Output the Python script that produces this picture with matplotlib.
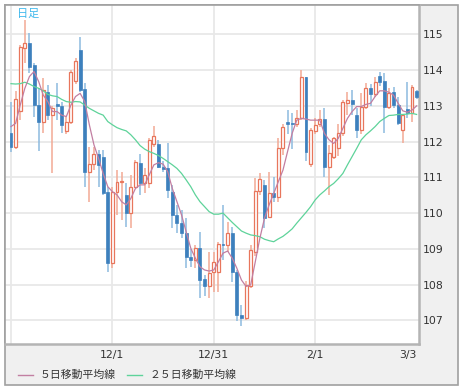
import matplotlib
matplotlib.use("Agg")
import matplotlib.pyplot as plt
from matplotlib.patches import Rectangle
from matplotlib.lines import Line2D

plt.rcParams['font.family'] = ['Noto Sans CJK JP', 'DejaVu Sans']

# daily candles (open, high, low, close)
opens = [112.23, 111.86, 112.85, 114.62, 114.75, 114.14, 113.02, 112.56, 113.40, 112.74,
         113.05, 113.00, 112.30, 112.56, 113.70, 114.56, 113.47, 111.16, 111.37, 111.64,
         111.58, 110.58, 108.60, 110.60, 110.87, 110.50, 110.00, 110.74, 111.40, 110.83,
         110.83, 111.92, 111.92, 111.30, 111.25, 110.60, 109.95, 109.72, 109.45, 108.78,
         108.69, 109.02, 108.15, 107.96, 108.36, 108.36, 109.15, 109.10, 109.44, 108.36,
         107.15, 107.06, 107.95, 108.92, 110.62, 110.79, 109.90, 110.55, 110.46, 111.81,
         112.56, 112.50, 112.48, 112.67, 113.82, 111.37, 112.30, 112.48, 112.63, 111.30,
         111.58, 111.81, 112.23, 113.07, 113.16, 112.75, 112.33, 112.98, 113.51, 113.32,
         113.83, 113.70, 112.98, 113.38, 113.02, 112.33, 112.91, 112.79, 113.42]
highs = [113.10, 113.42, 114.70, 115.40, 115.03, 114.20, 113.49, 113.77, 113.58, 113.00,
         113.63, 113.12, 112.70, 114.00, 114.33, 114.93, 113.63, 111.86, 111.86, 111.77,
         111.77, 110.74, 110.74, 111.20, 111.16, 110.83, 111.07, 111.49, 111.65, 111.25,
         112.10, 112.45, 112.05, 111.45, 111.95, 110.79, 110.23, 110.10, 109.86, 109.00,
         109.10, 109.48, 108.27, 108.92, 108.92, 109.20, 110.23, 109.76, 109.62, 108.40,
         107.43, 108.10, 109.10, 110.97, 111.11, 110.93, 111.16, 111.00, 112.09, 112.50,
         112.88, 112.80, 112.88, 114.00, 113.82, 112.37, 112.65, 112.88, 112.93, 111.90,
         112.14, 112.50, 113.16, 113.40, 113.44, 112.93, 113.35, 113.63, 113.60, 113.82,
         113.95, 113.91, 113.49, 113.54, 113.26, 112.74, 113.68, 113.58, 113.44]
lows = [111.71, 111.80, 112.60, 114.20, 113.91, 112.70, 111.74, 112.23, 112.60, 111.11,
        112.60, 112.23, 112.20, 112.50, 113.60, 113.40, 110.74, 110.32, 111.20, 110.74,
        110.50, 108.36, 108.46, 109.95, 109.80, 109.60, 109.58, 110.70, 110.50, 110.55,
        110.70, 111.85, 111.25, 111.15, 110.41, 109.58, 109.44, 109.30, 108.46, 108.50,
        108.46, 107.62, 107.67, 107.62, 107.80, 107.80, 108.70, 108.90, 108.08, 106.97,
        106.83, 107.00, 107.90, 108.80, 110.50, 109.58, 109.85, 110.30, 110.32, 111.63,
        112.20, 111.80, 112.40, 112.60, 111.46, 111.30, 112.20, 112.40, 111.02, 110.50,
        111.50, 111.60, 112.15, 112.75, 112.75, 112.10, 112.20, 112.90, 113.00, 113.25,
        113.55, 112.23, 112.90, 112.95, 112.47, 111.95, 112.65, 112.56, 113.20]
closes = [111.86, 113.18, 114.65, 114.76, 114.10, 113.02, 112.56, 113.44, 112.74, 112.93,
          113.00, 112.46, 112.55, 113.96, 114.25, 113.44, 111.16, 111.37, 111.65, 111.35,
          110.55, 108.60, 110.60, 110.88, 110.90, 109.99, 110.74, 111.44, 110.83, 111.08,
          112.05, 112.17, 111.30, 111.23, 110.65, 109.95, 109.72, 109.44, 108.78, 108.69,
          109.02, 108.13, 107.96, 108.32, 108.63, 109.15, 109.10, 109.44, 108.36, 107.15,
          107.08, 107.99, 108.97, 110.62, 110.96, 109.86, 110.55, 110.46, 111.81, 112.42,
          112.50, 112.49, 112.67, 113.82, 111.72, 112.33, 112.47, 112.63, 111.30, 111.67,
          112.09, 112.23, 113.10, 113.16, 113.04, 112.33, 112.98, 113.51, 113.32, 113.68,
          113.68, 112.98, 113.35, 113.02, 112.51, 112.74, 112.79, 113.54, 113.26]

# moving averages as shown on the chart
ma5 = [112.42, 112.51, 113.02, 113.49, 113.82, 113.96, 113.68, 113.30, 113.12, 112.84,
       112.84, 112.74, 112.70, 113.02, 113.26, 113.35, 113.12, 112.47, 111.91, 111.53,
       111.11, 110.74, 110.60, 110.51, 110.32, 110.23, 110.41, 110.69, 110.79, 110.79,
       111.07, 111.35, 111.41, 111.37, 111.16, 110.69, 110.32, 109.95, 109.48, 109.02,
       108.74, 108.50, 108.41, 108.38, 108.41, 108.64, 108.88, 108.94, 108.74, 108.46,
       108.13, 107.95, 107.99, 108.64, 109.30, 109.86, 110.23, 110.55, 110.88, 111.20,
       111.72, 112.23, 112.60, 112.65, 112.63, 112.60, 112.60, 112.60, 112.23, 112.05,
       111.95, 112.09, 112.37, 112.65, 112.84, 112.98, 112.98, 113.04, 113.07, 113.26,
       113.42, 113.42, 113.38, 113.30, 113.07, 112.86, 112.82, 112.88, 113.00]
ma25 = [113.62, 113.61, 113.62, 113.66, 113.61, 113.54, 113.49, 113.42, 113.32, 113.28,
        113.26, 113.18, 113.12, 113.10, 113.12, 113.11, 113.02, 112.93, 112.86, 112.79,
        112.74, 112.56, 112.47, 112.39, 112.34, 112.30, 112.19, 112.05, 111.89, 111.79,
        111.72, 111.67, 111.61, 111.53, 111.44, 111.35, 111.25, 111.11, 110.93, 110.74,
        110.51, 110.32, 110.18, 110.04, 109.97, 109.97, 110.00, 109.87, 109.74, 109.62,
        109.50, 109.44, 109.39, 109.37, 109.34, 109.27, 109.23, 109.20, 109.28, 109.35,
        109.45, 109.56, 109.72, 109.87, 110.02, 110.18, 110.37, 110.51, 110.62, 110.74,
        110.83, 110.96, 111.11, 111.35, 111.58, 111.81, 112.05, 112.19, 112.30, 112.42,
        112.56, 112.65, 112.73, 112.74, 112.76, 112.76, 112.77, 112.79, 112.76]

date_ticks = [22, 44, 66, 88]
date_labels = ['12/1', '12/31', '2/1', '3/3']
grid_days = [0, 22, 44, 66]
price_ticks = [107, 108, 109, 110, 111, 112, 113, 114, 115]

W, H = 465, 392
fig = plt.figure(figsize=(W / 100, H / 100), dpi=100)

# gray frame behind everything
fig.patches.append(Rectangle((5 / W, 1 - 385 / H), 453 / W, 380 / H,
                             transform=fig.transFigure, facecolor='#f0f0f0',
                             edgecolor='#a0a0a0', linewidth=1.2, zorder=-5))

ax = fig.add_axes([5 / W, 1 - 344 / H, 414 / W, 339 / H])
ax.set_zorder(2)
ax.set_facecolor('white')
ax.set_xlim(-1.3, 88.52)
ax.set_ylim(106.34, 115.82)

for p in price_ticks:
    ax.axhline(p, color='#e8e8e8', lw=1.3, zorder=0)
for d in grid_days:
    ax.axvline(d, color='#e8e8e8', lw=1.3, zorder=0)

up_edge, up_wick = '#e8765c', '#f2a995'
dn_face, dn_wick = '#3d80bd', '#8dbadf'
w = 0.64
for i in range(len(opens)):
    o, h, l, c = opens[i], highs[i], lows[i], closes[i]
    lo, hi = min(o, c), max(o, c)
    body = max(hi - lo, 0.04)
    if c >= o:
        ax.vlines(i, l, h, color=up_wick, lw=1.1, zorder=2)
        ax.bar(i, body, bottom=lo, width=w, facecolor='white',
               edgecolor=up_edge, linewidth=0.9, zorder=3)
    else:
        ax.vlines(i, l, h, color=dn_wick, lw=1.1, zorder=2)
        ax.bar(i, body, bottom=lo, width=w, facecolor=dn_face,
               edgecolor=dn_face, linewidth=0.5, zorder=3)

days = list(range(len(opens)))
ax.plot(days, ma25, color='#5ed39a', lw=0.9, zorder=4)
ax.plot(days, ma5, color='#c27fa2', lw=0.9, zorder=5)

ax.yaxis.tick_right()
ax.set_yticks(price_ticks)
ax.set_yticklabels([str(p) for p in price_ticks])
ax.set_xticks(date_ticks)
ax.set_xticklabels(date_labels)
ax.tick_params(axis='both', length=0, labelsize=7.8, colors='#333333')
ax.tick_params(axis='y', pad=2.5)
ax.tick_params(axis='x', pad=4)
for t in ax.get_yticklabels() + ax.get_xticklabels():
    t.set_family('DejaVu Sans')
ax.get_xticklabels()[-1].set_ha('right')

for s in ['left', 'top']:
    ax.spines[s].set_color('#a0a0a0')
    ax.spines[s].set_linewidth(1.2)
for s in ['right', 'bottom']:
    ax.spines[s].set_color('#b4b4b4')
    ax.spines[s].set_linewidth(1.8)

ax.text(12 / 414, 1 - 4 / 339, '日足', transform=ax.transAxes, fontsize=8,
        color='#3fb8ec', va='top', ha='left')

# legend
fig.add_artist(Line2D([18 / W, 33 / W], [1 - 375 / H] * 2, color='#c27fa2', lw=1))
fig.text(40 / W, 1 - 375 / H, '５日移動平均線', fontsize=7.8, color='#333333', va='center')
fig.add_artist(Line2D([127 / W, 142 / W], [1 - 375 / H] * 2, color='#5ed39a', lw=1))
fig.text(150 / W, 1 - 375 / H, '２５日移動平均線', fontsize=7.8, color='#333333', va='center')

fig.savefig('out.png', dpi=100)
